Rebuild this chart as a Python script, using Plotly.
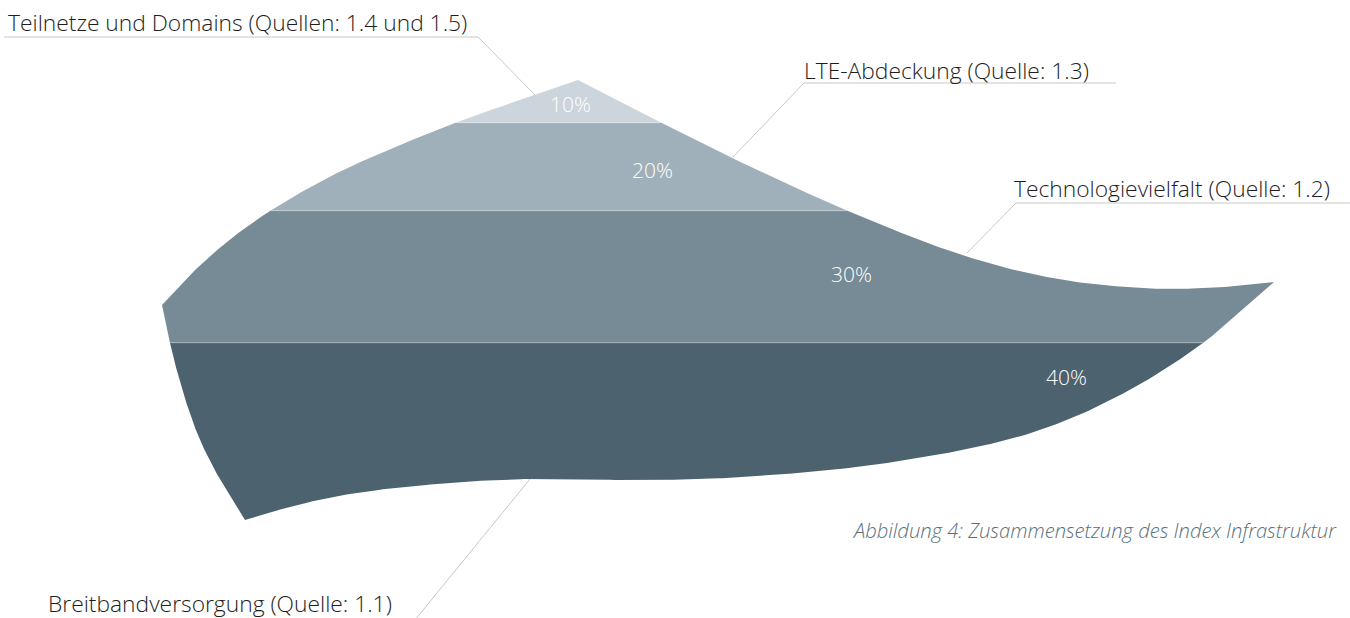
import plotly.graph_objects as go
import numpy as np

# ---------------- data ----------------
categories = [
    "Breitbandversorgung (Quelle: 1.1)",
    "Technologievielfalt (Quelle: 1.2)",
    "LTE-Abdeckung (Quelle: 1.3)",
    "Teilnetze und Domains (Quellen: 1.4 und 1.5)",
]
shares = [40, 30, 20, 10]          # percent, bottom to top
value_labels = ["40%", "30%", "20%", "10%"]
caption = "Abbildung 4: Zusammensetzung des Index Infrastruktur"

# ---------------- style / geometry ----------------
band_colors = ["#4c626e", "#778b96", "#a0b0ba", "#ccd5dc"]
W, H = 1350, 618
K = 4.4024          # pixels per percent on the y axis
A = 518.9           # pixel row of 0 %
Y_MAX = A / K
Y_MIN = Y_MAX - H / K


def to_y(py):
    return (A - py) / K


def to_px(v):
    return A - v * K


# outline of the decorative shape (pixel space), split at corners
outline_segments = [
    [(578, 80), (658, 121), (730, 157), (848, 211), (962, 255), (1052, 278),
     (1141, 288), (1208, 288), (1274, 282)],
    [(1274, 282), (1240, 312), (1203, 343), (1126, 392), (1031, 433), (887, 463),
     (743, 477), (650, 480), (530, 479), (463, 482), (363, 492), (297, 505), (245, 520)],
    [(245, 520), (222, 483), (200, 440), (183, 392), (170, 343), (162, 305)],
    [(162, 305), (190, 275), (228, 241), (270, 211), (335, 174), (400, 145), (460, 121), (520, 100), (578, 80)],
]


def catmull(pts, n=24, alpha=0.5):
    p = np.array(pts, dtype=float)
    p = np.vstack([p[0] * 2 - p[1], p, p[-1] * 2 - p[-2]])
    out = []
    for i in range(1, len(p) - 2):
        p0, p1, p2, p3 = p[i - 1], p[i], p[i + 1], p[i + 2]
        t0 = 0.0
        t1 = t0 + np.linalg.norm(p1 - p0) ** alpha
        t2 = t1 + np.linalg.norm(p2 - p1) ** alpha
        t3 = t2 + np.linalg.norm(p3 - p2) ** alpha
        for t in np.linspace(t1, t2, n, endpoint=False):
            a1 = (t1 - t) / (t1 - t0) * p0 + (t - t0) / (t1 - t0) * p1
            a2 = (t2 - t) / (t2 - t1) * p1 + (t - t1) / (t2 - t1) * p2
            a3 = (t3 - t) / (t3 - t2) * p2 + (t - t2) / (t3 - t2) * p3
            b1 = (t2 - t) / (t2 - t0) * a1 + (t - t0) / (t2 - t0) * a2
            b2 = (t3 - t) / (t3 - t1) * a2 + (t - t1) / (t3 - t1) * a3
            out.append((t2 - t) / (t2 - t1) * b1 + (t - t1) / (t2 - t1) * b2)
    return out


outline = []
for seg in outline_segments:
    outline.extend(catmull(seg))


def clip(poly, y0, keep_below):
    def inside(p):
        return p[1] >= y0 if keep_below else p[1] <= y0

    res = []
    n = len(poly)
    for i in range(n):
        cur, prev = poly[i], poly[i - 1]
        ci, pi = inside(cur), inside(prev)
        if ci:
            if not pi:
                t = (y0 - prev[1]) / (cur[1] - prev[1])
                res.append((prev[0] + t * (cur[0] - prev[0]), y0))
            res.append((cur[0], cur[1]))
        elif pi:
            t = (y0 - prev[1]) / (cur[1] - prev[1])
            res.append((prev[0] + t * (cur[0] - prev[0]), y0))
    return res


fig = go.Figure()

cum = np.concatenate([[0], np.cumsum(shares)])
boundaries = []
for i, share in enumerate(shares):
    poly = [tuple(p) for p in outline]
    lo, hi = cum[i], cum[i + 1]
    if i < len(shares) - 1:
        poly = clip(poly, to_px(hi), keep_below=True)
    if i > 0:
        poly = clip(poly, to_px(lo), keep_below=False)
        xs_b = [p[0] for p in poly if abs(p[1] - to_px(lo)) < 1e-6]
        boundaries.append((min(xs_b), max(xs_b), lo))
    xs = [p[0] for p in poly] + [poly[0][0]]
    ys = [to_y(p[1]) for p in poly] + [to_y(poly[0][1])]
    fig.add_trace(go.Scatter(x=xs, y=ys, mode="lines", fill="toself",
                             fillcolor=band_colors[i], line=dict(width=0),
                             hoverinfo="skip", showlegend=False))

for x0, x1, v in boundaries:
    fig.add_trace(go.Scatter(x=[x0 + 1, x1 - 1], y=[v, v], mode="lines",
                             line=dict(color="rgba(255,255,255,0.28)", width=1),
                             hoverinfo="skip", showlegend=False))

# leader lines (pixel space)
leaders = [
    [(415, 620), (530, 479)],
    [(1350, 203), (1016, 203), (967, 253)],
    [(1116, 83), (804, 83), (733, 157)],
    [(4, 37), (478, 37), (535, 95)],
]
for pts in leaders:
    fig.add_trace(go.Scatter(x=[p[0] for p in pts], y=[to_y(p[1]) for p in pts],
                             mode="lines", line=dict(color="#c8c8c8", width=1),
                             hoverinfo="skip", showlegend=False))

label_pos = [(46, 603), (1012, 188), (802, 70), (6, 22)]
value_pos = [(1066, 377), (851, 274), (652, 170), (570, 104)]

FONT = "Open Sans"
annotations = []
for cat, (x, y) in zip(categories, label_pos):
    annotations.append(dict(x=x, y=to_y(y), xref="x", yref="y", text=cat, showarrow=False,
                            xanchor="left", yanchor="middle",
                            font=dict(family=FONT, size=22.8, color="#1e1e1e", weight=300)))
for lab, (x, y) in zip(value_labels, value_pos):
    annotations.append(dict(x=x, y=to_y(y), xref="x", yref="y", text=lab, showarrow=False,
                            xanchor="center", yanchor="middle",
                            font=dict(family=FONT, size=21, color="#ffffff", weight=300)))
annotations.append(dict(x=1339, y=to_y(530), xref="x", yref="y", text="<i>" + caption + "</i>",
                        showarrow=False, xanchor="right", yanchor="middle",
                        font=dict(family=FONT, size=20.2, color="#5b6f7b", weight=300)))

fig.update_layout(
    width=W, height=H, margin=dict(l=0, r=0, t=0, b=0),
    paper_bgcolor="white", plot_bgcolor="white",
    xaxis=dict(range=[0, W], visible=False, fixedrange=True),
    yaxis=dict(range=[Y_MIN, Y_MAX], visible=False, fixedrange=True),
    annotations=annotations, showlegend=False,
)

fig.write_html("out.html", config={"displayModeBar": False},
               post_script="document.body.style.margin='0px';document.body.style.overflow='hidden';")
